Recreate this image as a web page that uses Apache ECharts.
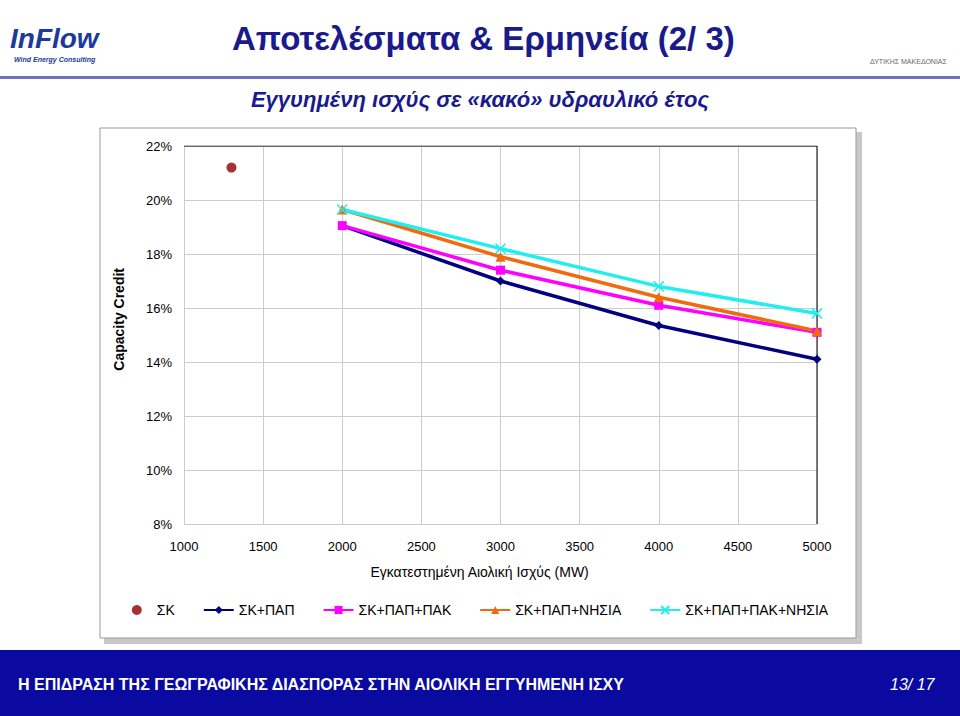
<!DOCTYPE html>
<html><head><meta charset="utf-8">
<script src="https://cdn.jsdelivr.net/npm/echarts@6/dist/echarts.min.js"></script>
<style>html,body{margin:0;padding:0;background:#fff}#c{width:960px;height:716px}</style>
</head><body><div id="c"></div>
<script>
var xTicks = [1000, 1500, 2000, 2500, 3000, 3500, 4000, 4500, 5000];
var sk = [[1300, 21.2]];
var skPap = [[2000, 19.05], [3000, 17.0], [4000, 15.35], [5000, 14.1]];
var skPapPak = [[2000, 19.05], [3000, 17.4], [4000, 16.1], [5000, 15.1]];
var skPapNis = [[2000, 19.65], [3000, 17.9], [4000, 16.4], [5000, 15.15]];
var skPapPakNis = [[2000, 19.65], [3000, 18.2], [4000, 16.8], [5000, 15.8]];

var chart = echarts.init(document.getElementById('c'), null, { renderer: 'svg' });
var font = 'Liberation Sans, Arial, sans-serif';
function line(name, data, color, symbol, size) {
  return {
    name: name, type: 'line', data: data, symbol: symbol, symbolSize: size,
    lineStyle: { color: color, width: 3.5 }, itemStyle: { color: color }
  };
}
chart.setOption({
  animation: false,
  textStyle: { fontFamily: font },
  graphic: [
    { type: 'rect', shape: { x: 104, y: 132, width: 758, height: 512 }, style: { fill: '#c8c8c8' } },
    { type: 'rect', shape: { x: 100, y: 128, width: 756, height: 510 }, style: { fill: '#fff', stroke: '#999', lineWidth: 1 } },
    { type: 'rect', shape: { x: 0, y: 76, width: 960, height: 3 }, style: { fill: '#7070c0' } },
    { type: 'text', left: 232, top: 22, style: { text: 'Αποτελέσματα & Ερμηνεία (2/ 3)', fill: '#1a1a8c', font: 'bold 33px ' + font } },
    { type: 'text', left: 10, top: 24, style: { text: 'InFlow', fill: '#1a3a9c', font: 'italic bold 28px ' + font } },
    { type: 'text', left: 14, top: 56, style: { text: 'Wind Energy Consulting', fill: '#1a3a9c', font: 'italic bold 7px ' + font } },
    { type: 'text', left: 870, top: 58, style: { text: 'ΔΥΤΙΚΗΣ ΜΑΚΕΔΟΝΙΑΣ', fill: '#666', font: '7px ' + font } },
    { type: 'text', left: 'center', top: 88, style: { text: 'Εγγυημένη ισχύς σε «κακό» υδραυλικό έτος', fill: '#1a1a8c', font: 'italic bold 22px ' + font } },
    { type: 'text', left: 'center', top: 565, style: { text: 'Εγκατεστημένη Αιολική Ισχύς (MW)', fill: '#000', font: '14px ' + font } },
    { type: 'text', left: 112, top: 268, rotation: Math.PI / 2, style: { text: 'Capacity Credit', fill: '#000', font: 'bold 14px ' + font, textAlign: 'center' } },
    { type: 'rect', shape: { x: 0, y: 650, width: 960, height: 66 }, style: { fill: '#0a0aa0' } },
    { type: 'text', left: 18, top: 676, style: { text: 'Η ΕΠΙΔΡΑΣΗ ΤΗΣ ΓΕΩΓΡΑΦΙΚΗΣ ΔΙΑΣΠΟΡΑΣ ΣΤΗΝ ΑΙΟΛΙΚΗ ΕΓΓΥΗΜΕΝΗ ΙΣΧΥ', fill: '#fff', font: 'bold 16px ' + font } },
    { type: 'text', left: 890, top: 676, style: { text: '13/ 17', fill: '#fff', font: 'italic 16px ' + font } }
  ],
  grid: { left: 184, right: 143, top: 146, bottom: 192 },
  xAxis: {
    type: 'value', min: 1000, max: 5000, interval: 500,
    axisLine: { show: false }, axisTick: { show: false },
    axisLabel: { color: '#000', fontSize: 13, margin: 16, formatter: function (v) { return String(v); } },
    splitLine: { show: true, lineStyle: { color: '#ccc' } }
  },
  yAxis: {
    type: 'value', min: 8, max: 22, interval: 2,
    axisLine: { show: false }, axisTick: { show: false },
    axisLabel: { color: '#000', fontSize: 13, margin: 12, formatter: '{value}%' },
    splitLine: { show: true, lineStyle: { color: '#ccc' } }
  },
  legend: {
    bottom: 94, left: 'center', itemGap: 28, itemWidth: 30, itemHeight: 10,
    textStyle: { color: '#000', fontSize: 14 },
    data: ['ΣΚ', 'ΣΚ+ΠΑΠ', 'ΣΚ+ΠΑΠ+ΠΑΚ', 'ΣΚ+ΠΑΠ+ΝΗΣΙΑ', 'ΣΚ+ΠΑΠ+ΠΑΚ+ΝΗΣΙΑ']
  },
  series: [
    { name: 'ΣΚ', type: 'scatter', data: sk, symbol: 'circle', symbolSize: 10, itemStyle: { color: '#8b0000' } },
    line('ΣΚ+ΠΑΠ', skPap, '#000080', 'diamond', 9),
    line('ΣΚ+ΠΑΠ+ΠΑΚ', skPapPak, '#ff00ff', 'rect', 9),
    line('ΣΚ+ΠΑΠ+ΝΗΣΙΑ', skPapNis, '#f06a10', 'triangle', 10),
    {
      name: 'ΣΚ+ΠΑΠ+ΠΑΚ+ΝΗΣΙΑ', type: 'line', data: skPapPakNis,
      symbol: 'path://M0,0L10,10M10,0L0,10', symbolSize: 10,
      lineStyle: { color: '#22eeee', width: 3.5 },
      itemStyle: { color: '#22eeee', borderColor: '#22eeee', borderWidth: 1.5 }
    },
    { type: 'line', data: [[5000, 8], [5000, 22]], symbol: 'none', silent: true, lineStyle: { color: '#000', width: 1 } },
    { type: 'line', data: [[1000, 22], [5000, 22]], symbol: 'none', silent: true, lineStyle: { color: '#000', width: 1 } }
  ]
});
</script></body></html>
